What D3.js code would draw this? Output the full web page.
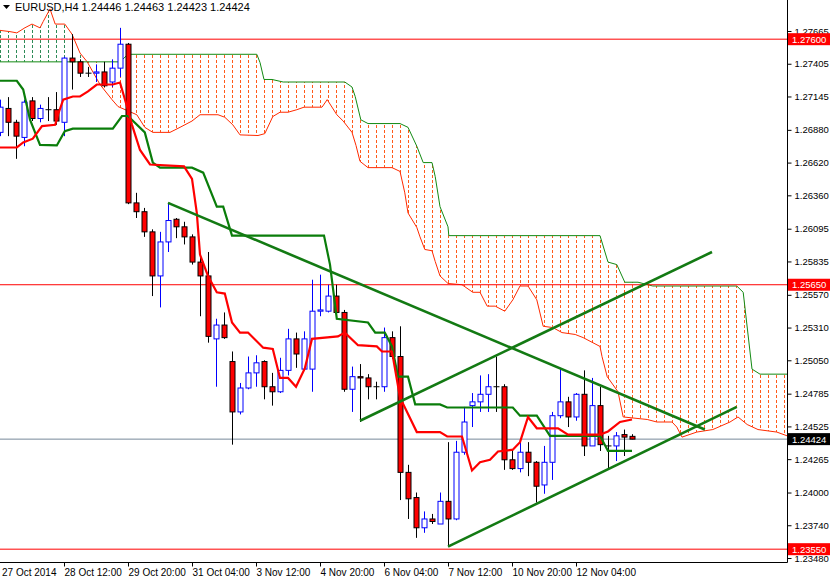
<!DOCTYPE html>
<html>
<head>
<meta charset="utf-8">
<script src="https://cdn.jsdelivr.net/npm/d3@7.9.0/dist/d3.min.js"></script>
<style>
  body { margin: 0; background: #fff; }
  svg { display: block; font-family: 'Liberation Sans', Arial, sans-serif; }
</style>
</head>
<body>
<svg width="830" height="580"></svg>
<script>
// candles, one every 4 hours (index = bar number)
const opens = [1.2686,1.2705,1.2694,1.2682,1.2711,1.2697,1.2704,1.2704,1.2694,1.2745,1.2742,1.2733,1.2733,1.2734,1.2726,1.2737,1.2756,1.2630,1.2623,1.2607,
  1.2572,1.2599,1.2617,1.2611,1.2603,1.2583,1.2572,1.2522,1.2533,1.2504,1.2464,1.2483,1.2495,1.2504,1.2484,1.2480,1.2497,1.2522,1.2498,1.2498,
  1.2544,1.2544,1.2556,1.2543,1.2482,1.2492,1.2491,1.2484,1.2484,1.2523,1.2508,1.2416,1.2396,1.2372,1.2379,1.2375,1.2393,1.2379,1.2432,1.2469,
  1.2472,1.2478,1.2484,1.2484,1.2426,1.2419,1.2432,1.2424,1.2406,1.2424,1.2461,1.2472,1.2460,1.2478,1.2437,1.2469,1.2437,1.2437,1.2446,1.24446];
const highs = [1.2712,1.2714,1.2696,1.2712,1.2714,1.2708,1.2714,1.2718,1.2746,1.2764,1.2744,1.2738,1.2740,1.2742,1.2744,1.2769,1.2757,1.2638,1.2626,1.2609,
  1.2607,1.2630,1.2618,1.2615,1.2605,1.2587,1.2591,1.2538,1.2543,1.2512,1.2487,1.2508,1.2509,1.2505,1.2495,1.2507,1.2530,1.2527,1.2528,1.2569,
  1.2573,1.2565,1.2565,1.2545,1.2500,1.2502,1.2494,1.2488,1.2531,1.2528,1.2532,1.2422,1.2400,1.2385,1.2383,1.2400,1.2440,1.2441,1.2468,1.2479,
  1.2493,1.2494,1.2508,1.2486,1.2434,1.2440,1.2440,1.2425,1.2437,1.2464,1.2499,1.2476,1.2479,1.2497,1.2491,1.2484,1.2445,1.2448,1.2450,1.24463];
const lows = [1.2683,1.2683,1.2665,1.2675,1.2695,1.2694,1.2695,1.2692,1.2683,1.2720,1.2730,1.2730,1.2726,1.2722,1.2722,1.2730,1.2629,1.2618,1.2603,1.2556,
  1.2547,1.2591,1.2602,1.2597,1.2581,1.2540,1.2519,1.2484,1.2522,1.2438,1.2462,1.2482,1.2484,1.2474,1.2469,1.2479,1.2493,1.2499,1.2497,1.2480,
  1.2540,1.2543,1.2541,1.2480,1.2464,1.2456,1.2474,1.2474,1.2480,1.2506,1.2394,1.2379,1.2364,1.2368,1.2375,1.2375,1.2357,1.2378,1.2430,1.2452,
  1.2464,1.2464,1.2464,1.2418,1.2418,1.2416,1.2413,1.2392,1.2399,1.2410,1.2459,1.2452,1.2457,1.2429,1.2437,1.2433,1.2418,1.2425,1.2429,1.24423];
const closes = [1.2706,1.2694,1.2683,1.2710,1.2697,1.2705,1.2704,1.2695,1.2745,1.2742,1.2733,1.2733,1.2734,1.2723,1.2737,1.2756,1.2630,1.2623,1.2607,1.2572,
  1.2599,1.2616,1.2611,1.2603,1.2583,1.2572,1.2524,1.2533,1.2523,1.2464,1.2483,1.2495,1.2503,1.2484,1.2480,1.2497,1.2522,1.2510,1.2522,1.2544,
  1.2545,1.2556,1.2543,1.2482,1.2492,1.2491,1.2484,1.2484,1.2523,1.2508,1.2416,1.2395,1.2372,1.2379,1.2377,1.2393,1.2379,1.2432,1.2456,1.2472,
  1.2478,1.2484,1.2484,1.2426,1.2419,1.2432,1.2424,1.2405,1.2424,1.2461,1.2472,1.2460,1.2478,1.2437,1.2469,1.2438,1.2437,1.2445,1.2444,1.24424];

// Ichimoku lines, vertices as (bar, price)
const tenkanBars = [0,2.1,2.9,4.1,5.25,6.9,7.25,7.9,9.1,10,11,12.1,14.1,15,15.9,16.5,17.5,18.75,23,24,24.6,25,26,27.1,28.1,29,30,31,32.9,34.1,35,36,37,38.1,39,42.25,43.1,44.75,47.1,47.75,49,50,52.1,55,55.9,57.75,59,60,61.25,62.25,64.1,65,66,67.1,69.75,71,75,76,77.5,79];
const tenkanVals = [1.2674,1.2674,1.2678,1.2681,1.2691,1.2692,1.2700,1.2712,1.27145,1.27145,1.27185,1.2724,1.2724,1.27256,1.2706,1.2692,1.2672,1.26605,1.2659,1.2649,1.2622,1.2589,1.2572,1.2559,1.2558,1.2535,1.2527,1.2527,1.2515,1.2514,1.2491,1.2491,1.2484,1.24985,1.2522,1.2524,1.2527,1.2517,1.2516,1.2512,1.2512,1.24755,1.2448,1.2448,1.24445,1.24445,1.24175,1.2424,1.2426,1.24326,1.2434,1.2440,1.2460,1.2451,1.2451,1.2446,1.2446,1.24485,1.2456,1.2458];
const kijunBars = [0,2.1,2.9,3.75,5,7.1,8.1,9.1,14.1,15.25,16,18.1,19.1,20,24,25.4,27.1,27.9,29,40.5,41.25,42.1,46,46.9,48.1,49,49.75,51,51.9,55,55.9,64.1,65,67.1,68.75,75,76,79];
const kijunVals = [1.2727,1.2727,1.2720,1.2696,1.2676,1.26756,1.2687,1.2689,1.2689,1.2699,1.2699,1.2686,1.2662,1.2658,1.2658,1.2654,1.2627,1.2627,1.2604,1.2604,1.2581,1.2538,1.2535,1.2527,1.2527,1.2516,1.2492,1.2492,1.2470,1.2470,1.24675,1.24675,1.2461,1.2461,1.2445,1.2445,1.2433,1.2433];

// cloud (senkou spans shifted forward)
const spanABars = [0,1.25,2.1,3.1,4,5,5.4,6.25,6.9,8.1,9,10,10.9,12.5,14,14.75,17.1,18.1,19.1,21.25,22.5,24,25,27.25,28.1,29.1,30,32.25,33.1,34.1,35,36,37.1,38,40.25,40.9,42.1,42.9,44,44.5,45,46,49,50,50.6,51,52.1,52.5,53.1,54,54.4,55,56,57.75,59.1,60,60.9,61.9,63.1,64.1,65,66,67.1,67.9,69.1,70.25,71.9,72.9,75,75.25,75.9,77.25,77.9,80.9,82.1,84,84.6,85.25,87.1,89.1,91.25,92.25,93.4,94.75,97.1,98.4];
const spanAVals = [1.2767,1.2766,1.2765,1.2769,1.2772,1.2769,1.2774,1.2784,1.2772,1.2772,1.2764,1.2749,1.2742,1.2724,1.2712,1.27065,1.2700,1.2690,1.2686,1.2686,1.2690,1.2695,1.2700,1.2700,1.2698,1.2692,1.2684,1.26835,1.2685,1.26986,1.2702,1.2702,1.2704,1.2706,1.2706,1.2712,1.2700,1.2695,1.2686,1.26756,1.2663,1.2658,1.2658,1.2655,1.2638,1.2622,1.26105,1.2603,1.2593,1.2592,1.25835,1.2572,1.2566,1.2565,1.2559,1.2559,1.2548,1.2548,1.2544,1.2553,1.2564,1.2564,1.2553,1.2532,1.2531,1.2527,1.25255,1.2523,1.2516,1.2508,1.2492,1.2480,1.2460,1.2458,1.2456,1.2456,1.2452,1.2444,1.2448,1.2450,1.2456,1.2460,1.2454,1.2450,1.2448,1.2445];
const spanBBars = [0,15,16,32.1,32.5,33,34,35.4,43.1,44,44.4,45.1,46,50,51,52.1,52.9,54,54.4,55,56,56.1,75,76,77.1,78.1,79.75,81.6,92.1,92.9,94,95,98.4];
const spanBVals = [1.2742,1.2742,1.2748,1.2748,1.27415,1.2728,1.2728,1.2726,1.2726,1.2722,1.27145,1.2696,1.2693,1.2693,1.2690,1.2675,1.2662,1.2662,1.2651,1.2627,1.2611,1.2604,1.2604,1.2583,1.2581,1.2567,1.2567,1.2564,1.2564,1.2559,1.2498,1.2494,1.2494];

// hand-drawn trendlines: [bar, price, bar, price]
const trendlines = [
  [21, 1.2630, 88.1, 1.2450],
  [45, 1.2457, 89, 1.2591],
  [56, 1.2357, 92.1, 1.2468]
];
const redLevels = [1.27600, 1.25650, 1.23550];
const lastPrice = 1.24424;

const priceTicks = [1.27665,1.27405,1.27145,1.26880,1.26620,1.26360,1.26095,1.25835,1.25570,1.25310,1.25050,1.24785,1.24525,1.24265,1.24000,1.23740,1.23480];
const timeBars = [8,16,24,32,40,48,56,64,72];
const timeLabels = ['28 Oct 12:00','29 Oct 20:00','31 Oct 04:00','3 Nov 12:00','4 Nov 20:00','6 Nov 04:00','7 Nov 12:00','10 Nov 20:00','12 Nov 04:00'];

const plotRight = 787, plotBottom = 562;
const x = d3.scaleLinear().domain([0, 1]).range([0, 8]);
const y = d3.scaleLinear().domain([1.23480, 1.27665]).range([558, 31]);

const svg = d3.select('svg');
const defs = svg.append('defs');
defs.append('clipPath').attr('id', 'plot')
  .append('rect').attr('x', 0).attr('y', 0).attr('width', plotRight).attr('height', plotBottom);
defs.append('clipPath').attr('id', 'bull')
  .append('rect').attr('x', 0).attr('y', 0).attr('width', x(11)).attr('height', plotBottom);
defs.append('clipPath').attr('id', 'bear')
  .append('rect').attr('x', x(11)).attr('y', 0).attr('width', plotRight).attr('height', plotBottom);

function hatch(id, color) {
  let p = defs.append('pattern').attr('id', id)
    .attr('patternUnits', 'userSpaceOnUse').attr('width', 8).attr('height', 5);
  p.append('line').attr('x1', 0.5).attr('x2', 0.5).attr('y1', 0).attr('y2', 3)
    .attr('stroke', color).attr('stroke-width', 1);
}
hatch('hatchRed', '#ff5a1a');
hatch('hatchGreen', '#2e8b57');

const plot = svg.append('g').attr('clip-path', 'url(#plot)');

// cloud
let spanA = spanABars.map((b, i) => [x(b), y(spanAVals[i])]);
let spanB = spanBBars.map((b, i) => [x(b), y(spanBVals[i])]);
let poly = spanA.concat(spanB.slice().reverse());
let cloudPath = 'M' + poly.map((p) => p.join(',')).join('L') + 'Z';
plot.append('path').attr('d', cloudPath).attr('fill', 'url(#hatchGreen)').attr('clip-path', 'url(#bull)');
plot.append('g').attr('clip-path', 'url(#bear)')
  .append('path').attr('d', cloudPath).attr('fill', 'url(#hatchRed)');
let line = d3.line();
plot.append('path').attr('d', line(spanA)).attr('fill', 'none').attr('stroke', '#ff2a00').attr('stroke-width', 1);
plot.append('path').attr('d', line(spanB)).attr('fill', 'none').attr('stroke', '#138a13').attr('stroke-width', 1);

// horizontal levels
redLevels.forEach((v) => {
  plot.append('line').attr('x1', 0).attr('x2', plotRight).attr('y1', y(v)).attr('y2', y(v))
    .attr('stroke', '#ff0000').attr('stroke-width', 1);
});
plot.append('line').attr('x1', 0).attr('x2', plotRight).attr('y1', y(lastPrice)).attr('y2', y(lastPrice))
  .attr('stroke', '#778899').attr('stroke-width', 1);

// candles
opens.forEach((o, i) => {
  let c = closes[i];
  let cx = Math.round(x(i)) + 0.5;
  let col = c > o ? '#0000ff' : '#000000';
  plot.append('line').attr('x1', cx).attr('x2', cx)
    .attr('y1', y(highs[i])).attr('y2', y(lows[i])).attr('stroke', col);
  let top = y(Math.max(o, c)), bot = y(Math.min(o, c));
  if (c === o) {
    plot.append('line').attr('x1', cx - 3).attr('x2', cx + 3).attr('y1', top).attr('y2', top).attr('stroke', '#000');
  } else {
    plot.append('rect').attr('x', cx - 2.5).attr('y', top).attr('width', 5).attr('height', Math.max(1, bot - top))
      .attr('fill', c > o ? '#ffffff' : '#ff0000').attr('stroke', col).attr('stroke-width', 1);
  }
});

// tenkan / kijun
let curve = d3.line().x((d) => x(d[0])).y((d) => y(d[1]));
plot.append('path').attr('d', curve(kijunBars.map((b, i) => [b, kijunVals[i]])))
  .attr('fill', 'none').attr('stroke', '#0a7d0a').attr('stroke-width', 2.2);
plot.append('path').attr('d', curve(tenkanBars.map((b, i) => [b, tenkanVals[i]])))
  .attr('fill', 'none').attr('stroke', '#ff0000').attr('stroke-width', 2.2);

// trendlines
trendlines.forEach((t) => {
  plot.append('line').attr('x1', x(t[0])).attr('y1', y(t[1])).attr('x2', x(t[2])).attr('y2', y(t[3]))
    .attr('stroke', '#137a13').attr('stroke-width', 2.6);
});

// frame
svg.append('line').attr('x1', plotRight + 0.5).attr('x2', plotRight + 0.5).attr('y1', 0).attr('y2', plotBottom + 0.5)
  .attr('stroke', '#000');
svg.append('line').attr('x1', 0).attr('x2', plotRight + 0.5).attr('y1', plotBottom + 0.5).attr('y2', plotBottom + 0.5)
  .attr('stroke', '#000');

// price axis
let yAxis = d3.axisRight(y).tickValues(priceTicks).tickSize(4).tickFormat(d3.format('.5f'));
let ya = svg.append('g').attr('transform', `translate(${plotRight + 0.5},0)`).call(yAxis);
ya.select('.domain').remove();
ya.selectAll('text').attr('font-size', 9.5).attr('fill', '#000').attr('x', 7)
  .attr('font-family', "'Liberation Sans', Arial, sans-serif");

function priceBox(v, fill) {
  svg.append('rect').attr('x', plotRight + 1).attr('y', y(v) - 6).attr('width', 43).attr('height', 12).attr('fill', fill);
  svg.append('text').attr('x', plotRight + 5).attr('y', y(v) + 3.5).attr('font-size', 9.5).attr('fill', '#fff')
    .text(d3.format('.5f')(v));
}
redLevels.forEach((v) => priceBox(v, '#ff0000'));
priceBox(lastPrice, '#000000');

// time axis
let xAxis = d3.axisBottom(x).tickValues(timeBars).tickSize(4).tickFormat((d, i) => timeLabels[i]);
let xa = svg.append('g').attr('transform', `translate(0,${plotBottom + 0.5})`).call(xAxis);
xa.select('.domain').remove();
xa.selectAll('text').attr('font-size', 10).attr('fill', '#000').attr('text-anchor', 'start').attr('x', 0).attr('y', 6)
  .attr('font-family', "'Liberation Sans', Arial, sans-serif");
svg.append('text').attr('x', 2).attr('y', 576).attr('font-size', 10).text('27 Oct 2014');

// header
svg.append('path').attr('d', 'M3,5L10,5L6.5,9Z').attr('fill', '#000');
svg.append('text').attr('x', 15).attr('y', 11).attr('font-size', 11).attr('fill', '#000')
  .text('EURUSD,H4  1.24446 1.24463 1.24423 1.24424');
</script>
</body>
</html>
